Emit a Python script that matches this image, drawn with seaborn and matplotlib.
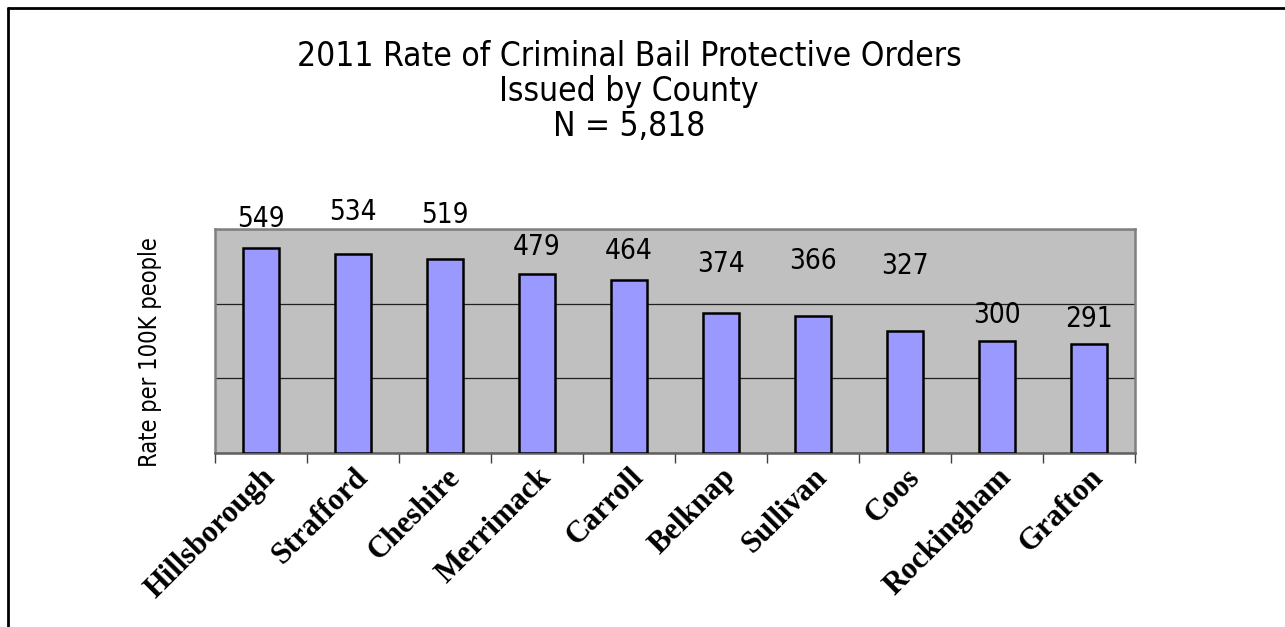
import matplotlib
matplotlib.use("Agg")
import matplotlib.pyplot as plt
from matplotlib.lines import Line2D
import seaborn as sns
import pandas as pd

# data
counties = ["Hillsborough", "Strafford", "Cheshire", "Merrimack", "Carroll",
            "Belknap", "Sullivan", "Coos", "Rockingham", "Grafton"]
rates = [549, 534, 519, 479, 464, 374, 366, 327, 300, 291]
# height (in data units) where each value label sits, as in the original
label_y = [627, 646, 638, 552, 541, 506, 514, 501, 370, 359]
title_lines = ["2011 Rate of Criminal Bail Protective Orders",
               "Issued by County",
               "N = 5,818"]

sns.set_theme(style="white")
plt.rcParams["font.family"] = ["Liberation Sans Narrow", "DejaVu Sans"]
plt.rcParams["font.stretch"] = "condensed"

df = pd.DataFrame({"county": counties, "rate": rates})

W, H = 1285, 627
fig = plt.figure(figsize=(W / 100, H / 100), dpi=100)
ax = fig.add_axes([215 / W, 1 - 453 / H, 920 / W, 224 / H])

sns.barplot(data=df, x="county", y="rate", color="#9999FF", edgecolor="black",
            linewidth=1.8, width=0.4, saturation=1, ax=ax, zorder=3)

ax.set_facecolor("#C0C0C0")
ax.set_ylim(0, 600)
ax.set_xlim(-0.5, len(counties) - 0.5)
ax.set_yticks([0, 200, 400, 600])
ax.set_yticklabels([])
ax.tick_params(axis="y", length=0)
ax.yaxis.grid(True, color="#202020", linewidth=0.9)
ax.set_axisbelow(True)
for s in ax.spines.values():
    s.set_color("#808080")
    s.set_linewidth(1.8)
ax.spines["bottom"].set_color("#606060")

# category boundary ticks below the axis
ax.set_xticks([i - 0.5 for i in range(len(counties) + 1)], minor=True)
ax.tick_params(axis="x", which="minor", length=7, width=1, color="#404040",
               direction="out", bottom=True)
ax.tick_params(axis="x", which="major", length=0, pad=7)
ax.set_xticks(range(len(counties)))
ax.set_xticklabels(counties, rotation=45, ha="right", rotation_mode="anchor",
                   fontfamily="Liberation Serif", fontweight="bold", fontsize=22,
                   fontstretch="normal", color="black")
ax.set_xlabel("")
ax.set_ylabel("")

for i, (v, ly) in enumerate(zip(rates, label_y)):
    ax.text(i, ly, str(v), ha="center", va="center", fontsize=20,
            color="black", clip_on=False, zorder=5)

for k, line in enumerate(title_lines):
    fig.text(629 / W, 1 - (57 + 35 * k) / H, line, ha="center", va="center",
             fontsize=24, color="black")

fig.text(150 / W, 1 - 352 / H, "Rate per 100K people", rotation=90,
         ha="center", va="center", fontsize=17, color="black")

# outer frame (top and left edges visible in the crop)
fig.add_artist(Line2D([8 / W, 1], [1 - 8 / H, 1 - 8 / H], color="black",
                      linewidth=2, transform=fig.transFigure))
fig.add_artist(Line2D([8 / W, 8 / W], [0, 1 - 8 / H], color="black",
                      linewidth=2, transform=fig.transFigure))

fig.savefig("out.png", dpi=100, facecolor="white")
